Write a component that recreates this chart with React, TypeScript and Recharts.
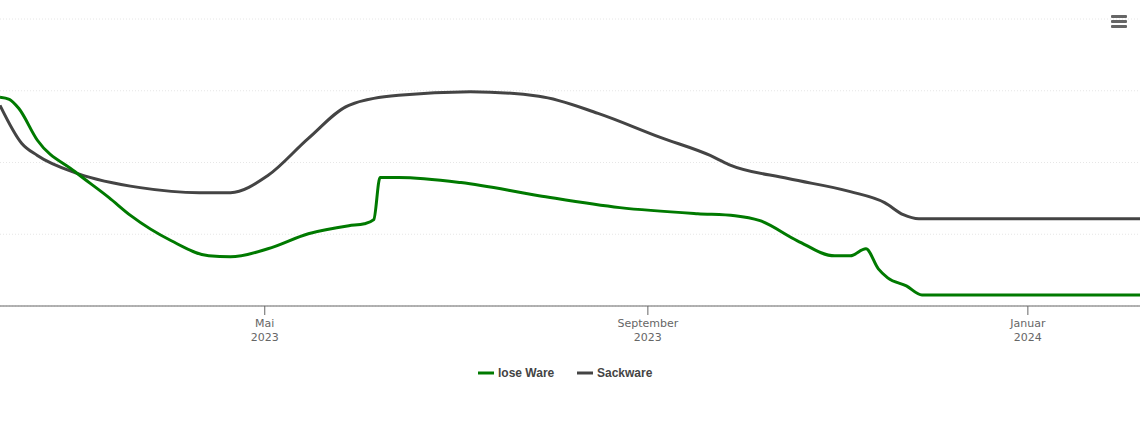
import React from 'react';
import { LineChart, Line, XAxis, YAxis, CartesianGrid } from 'recharts';

// lose Ware
const loseDates = [
  '2023-02-05', '2023-02-08', '2023-02-11', '2023-02-17', '2023-03-01', '2023-03-12', '2023-03-19', '2023-04-01',
  '2023-04-13', '2023-04-20', '2023-05-02', '2023-05-15', '2023-05-28', '2023-06-02', '2023-06-05', '2023-06-07',
  '2023-06-13', '2023-07-03', '2023-07-28', '2023-08-23', '2023-09-17', '2023-09-29', '2023-10-07', '2023-10-19',
  '2023-10-31', '2023-11-05', '2023-11-10', '2023-11-14', '2023-11-17', '2023-11-23', '2023-11-28', '2024-02-06',
];
const loseValues = [
  2.91, 2.88, 2.755, 2.31, 1.874, 1.51, 1.259, 0.909,
  0.699, 0.685, 0.797, 1.007, 1.119, 1.147, 1.203, 1.79,
  1.79, 1.72, 1.538, 1.371, 1.287, 1.259, 1.189, 0.909,
  0.699, 0.699, 0.797, 0.517, 0.392, 0.28, 0.154, 0.154,
];

// Sackware
const sackDates = [
  '2023-02-05', '2023-02-12', '2023-02-17', '2023-03-02', '2023-03-22', '2023-04-10', '2023-04-20', '2023-05-02',
  '2023-05-15', '2023-05-28', '2023-06-13', '2023-07-06', '2023-07-28', '2023-08-16', '2023-09-05', '2023-09-21',
  '2023-09-27', '2023-10-16', '2023-11-05', '2023-11-16', '2023-11-22', '2023-11-27', '2024-02-06',
];
const sackValues = [
  2.797, 2.266, 2.098, 1.846, 1.65, 1.58, 1.58, 1.818,
  2.336, 2.797, 2.937, 2.986, 2.923, 2.685, 2.35, 2.098,
  1.972, 1.776, 1.594, 1.441, 1.273, 1.217, 1.217,
];

const tickDates = ['2023-05-01', '2023-09-01', '2024-01-01'];
const tickMonths = ['Mai', 'September', 'Januar'];
const tickYears = ['2023', '2023', '2024'];
const domainDates = ['2023-02-05', '2024-02-06'];
const yTicks = [0, 1, 2, 3, 4];

const seriesNames = ['lose Ware', 'Sackware'];
const seriesColors = ['#007a00', '#444444'];

const ts = (d: string) => Date.parse(d + 'T00:00:00Z');

const loseData = loseDates.map((d, i) => ({ t: ts(d), v: loseValues[i] }));
const sackData = sackDates.map((d, i) => ({ t: ts(d), v: sackValues[i] }));
const tickTs = tickDates.map(ts);

const Tick = (props: any) => {
  const { x, y, payload } = props;
  const idx = tickTs.indexOf(payload.value);
  if (idx < 0) return null;
  return (
    <text x={x} y={y} textAnchor="middle" fill="#666666" fontSize={11} fontFamily="'DejaVu Sans', sans-serif">
      <tspan x={x} dy={10}>{tickMonths[idx]}</tspan>
      <tspan x={x} dy={14}>{tickYears[idx]}</tspan>
    </text>
  );
};

export default function App() {
  return (
    <div style={{ position: 'absolute', left: 0, top: 0, width: 1140, height: 434, background: '#fff' }}>
      <LineChart
        width={1140}
        height={434}
        margin={{ top: 19, right: 0, bottom: 88, left: 0 }}
      >
        <CartesianGrid vertical={false} stroke="#e6e6e6" strokeDasharray="1 2" />
        <XAxis
          dataKey="t"
          type="number"
          domain={[ts(domainDates[0]), ts(domainDates[1])]}
          ticks={tickTs}
          tick={<Tick />}
          tickSize={9}
          tickLine={{ stroke: '#666666' }}
          axisLine={{ stroke: '#666666' }}
          height={40}
          allowDataOverflow
          interval={0}
        />
        <YAxis hide domain={[0, 4]} ticks={yTicks} type="number" />
        <Line
          data={sackData}
          dataKey="v"
          name={seriesNames[1]}
          type="monotone"
          stroke={seriesColors[1]}
          strokeWidth={3}
          dot={false}
          activeDot={false}
          isAnimationActive={false}
        />
        <Line
          data={loseData}
          dataKey="v"
          name={seriesNames[0]}
          type="monotone"
          stroke={seriesColors[0]}
          strokeWidth={3}
          dot={false}
          activeDot={false}
          isAnimationActive={false}
        />
      </LineChart>
      <svg width={1140} height={434} style={{ position: 'absolute', left: 0, top: 0, pointerEvents: 'none' }}>
        <g fill="#666666">
          <rect x={1111} y={15} width={16} height={3} rx={1} />
          <rect x={1111} y={20} width={16} height={3} rx={1} />
          <rect x={1111} y={25} width={16} height={3} rx={1} />
        </g>
        <g fontFamily="'Liberation Sans', Arial, sans-serif" fontSize={12} fontWeight="bold" fill="#444444">
          <line x1={478} x2={494} y1={373} y2={373} stroke={seriesColors[0]} strokeWidth={3} />
          <text x={498} y={377}>{seriesNames[0]}</text>
          <line x1={577} x2={593} y1={373} y2={373} stroke={seriesColors[1]} strokeWidth={3} />
          <text x={597} y={377}>{seriesNames[1]}</text>
        </g>
      </svg>
    </div>
  );
}
